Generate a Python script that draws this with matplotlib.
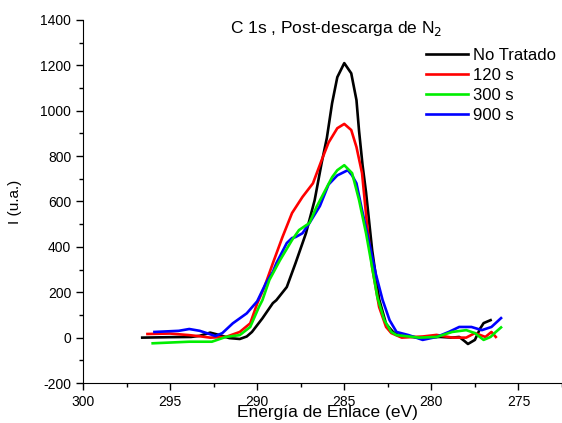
import numpy as np
import matplotlib
matplotlib.use('Agg')
import matplotlib.pyplot as plt

plt.rcParams['font.family'] = ['Liberation Sans', 'DejaVu Sans']
plt.rcParams['axes.unicode_minus'] = False

# Energía de enlace (eV) y señal (u.a.)
x_no_tratado = [296.6, 295.0, 293.8, 293.3, 292.7, 292.2, 291.6, 291.0, 290.6, 290.3, 289.7, 289.1,
                288.9, 288.3, 287.8, 287.2, 286.7, 286.3, 286.0, 285.7, 285.4, 285.0, 284.6,
                284.3, 284.15, 283.95, 283.75, 283.4, 283.0, 282.6, 282.2, 282.0, 281.7, 280.7,
                279.5, 278.8, 278.4, 278.1, 277.9, 277.5, 277.2, 277.0, 276.6]
y_no_tratado = [0, 2, 3, 8, 22, 12, -2, -6, 5, 25, 85, 152,
                165, 223, 328, 460, 606, 770, 880, 1033, 1148, 1210, 1165,
                1047, 910, 760, 640, 386, 170, 60, 25, 15, 8, 0,
                3, 0, 3, -15, -28, -10, 40, 64, 77]

x_120 = [296.3, 295.0, 293.9, 293.2, 292.7, 291.8, 291.0, 290.4, 290.0, 289.6, 289.1, 288.55,
         288.0, 287.4, 286.8, 286.3, 285.9, 285.4, 285.0, 284.6, 284.3, 283.98, 283.7,
         283.4, 283.0, 282.6, 282.3, 281.7, 280.5, 279.7, 278.8, 278.0, 277.5, 276.9,
         276.55, 276.3]
y_120 = [16, 18, 11, 5, 0, 3, 25, 63, 150, 220, 328, 443,
         549, 620, 680, 782, 860, 923, 942, 915, 840, 725, 504,
         310, 135, 47, 20, 0, 5, 12, 0, 0, 20, 3,
         25, 3]

x_300 = [296.0, 293.9, 292.6, 291.8, 291.0, 290.4, 289.9, 289.7, 289.3, 288.7, 288.0, 287.6,
         287.0, 286.6, 286.0, 285.7, 285.4, 285.0, 284.55, 284.15, 283.75, 283.4, 283.1,
         282.7, 282.3, 282.0, 280.7, 279.7, 278.8, 278.0, 277.5, 277.0, 276.6, 276.3, 276.0]
y_300 = [-25, -18, -18, 3, 11, 47, 135, 165, 254, 340, 430, 474,
         505, 575, 663, 707, 738, 760, 725, 606, 460, 310, 178,
         77, 25, 11, 0, 3, 25, 33, 20, -10, 3, 25, 45]

x_900 = [295.9, 294.5, 293.9, 293.3, 292.9, 292.4, 292.0, 291.4, 290.6, 290.0, 289.5, 289.1,
         288.9, 288.3, 288.0, 287.8, 287.4, 287.0, 286.4, 285.9, 285.4, 284.8, 284.55,
         284.3, 283.98, 283.6, 283.2, 282.8, 282.4, 282.0, 281.3, 280.5, 279.7, 279.0,
         278.4, 277.7, 277.1, 276.55, 276.0]
y_900 = [25, 30, 38, 30, 20, 7, 20, 63, 107, 160, 240, 290,
         328, 417, 439, 443, 460, 505, 580, 675, 715, 738, 715,
         680, 562, 430, 284, 166, 77, 25, 11, -10, 3, 25,
         47, 47, 33, 47, 86]

series = [
    (x_no_tratado, y_no_tratado, 'black', 'No Tratado'),
    (x_120, y_120, 'red', '120 s'),
    (x_300, y_300, '#00ee00', '300 s'),
    (x_900, y_900, 'blue', '900 s'),
]

fig = plt.figure(figsize=(5.62, 4.23), dpi=100)
ax = fig.add_axes([83 / 562, 1 - 383 / 423, 1 - 83 / 562, (383 - 20) / 423])

# orden de dibujo: el negro abajo
for xs, ys, col, lab in [series[0], series[1], series[3], series[2]]:
    ax.plot(xs, ys, color=col, lw=1.9, label=lab, solid_joinstyle='round')

ax.set_xlim(300, 272.6)
ax.set_ylim(-200, 1400)
ax.set_xticks([300, 295, 290, 285, 280, 275])
ax.set_xticks(np.arange(297.5, 272, -5), minor=True)
ax.set_yticks(np.arange(-200, 1401, 200))
ax.set_yticks(np.arange(-100, 1400, 200), minor=True)

for s in ['top', 'right']:
    ax.spines[s].set_visible(False)
ax.tick_params(axis='both', which='major', direction='out', length=5, width=1, labelsize=10)
ax.tick_params(axis='both', which='minor', direction='out', length=3, width=1)

ax.set_xlabel('Energía de Enlace (eV)', fontsize=12.5)
ax.xaxis.set_label_coords((327 - 83) / (562 - 83), -(412 - 383) / (383 - 20), transform=ax.transAxes)
ax.xaxis.label.set_va('center')
ax.set_ylabel('I (u.a.)', fontsize=11)
ax.yaxis.set_label_coords(-(83 - 15) / (562 - 83), 0.5)
ax.yaxis.label.set_va('center')

fig.text(336 / 562, 1 - 28 / 423, 'C 1s , Post-descarga de N$_2$', fontsize=12.5,
         ha='center', va='center')

handles, labels = ax.get_legend_handles_labels()
order = [labels.index(l) for l in ['No Tratado', '120 s', '300 s', '900 s']]
ax.legend([handles[i] for i in order], [labels[i] for i in order],
          loc='upper left', bbox_to_anchor=(426 / 562, 1 - 48 / 423),
          bbox_transform=fig.transFigure, frameon=False, fontsize=12,
          handlelength=2.5, handletextpad=0.3, labelspacing=0.3,
          borderpad=0, borderaxespad=0)

fig.savefig('out.png', dpi=100)
